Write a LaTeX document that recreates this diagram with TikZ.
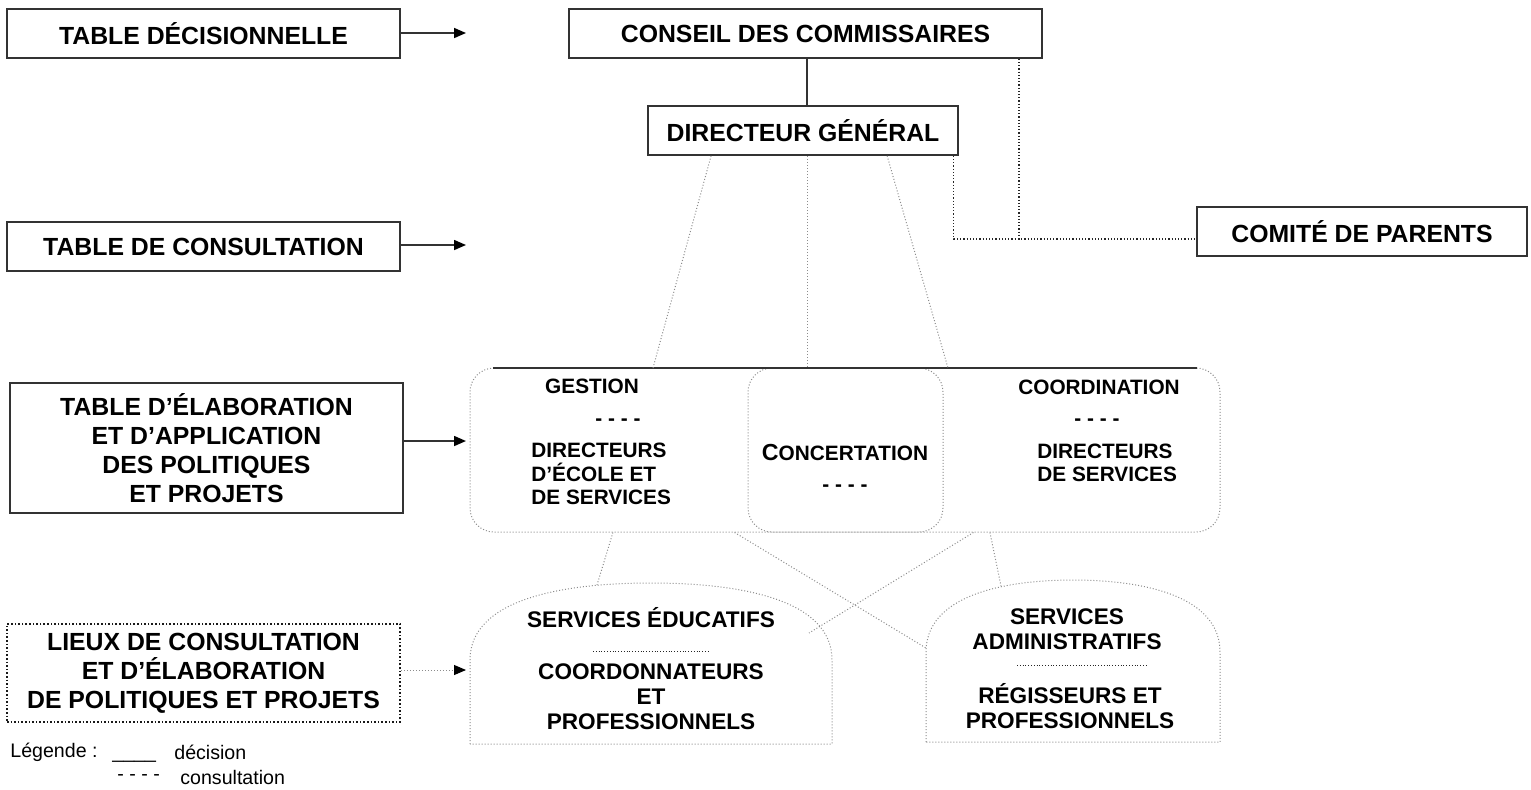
\documentclass[tikz,border=0pt]{standalone}
\usepackage{fontspec}
\setmainfont{Liberation Sans}
\usetikzlibrary{arrows.meta,calc}

\begin{document}
\begin{tikzpicture}[x=0.5pt,y=-0.5pt,
    tablebox/.style={draw=black!80, line width=0.8pt, inner sep=0pt, align=center,
        minimum width=196.5pt, minimum height=24.5pt,
        font=\bfseries\fontsize{12.4}{14.5}\selectfont},
    orgbox/.style={tablebox},
    consultbox/.style={draw=black!45, densely dotted, line width=0.5pt, rounded corners=12pt, inner sep=0pt},
    midtext/.style={inner sep=0pt, align=left, font=\bfseries\fontsize{10.4}{11.6}\selectfont},
    servtext/.style={inner sep=0pt, align=center, font=\bfseries\fontsize{11.3}{12.5}\selectfont},
    legendtext/.style={inner sep=0pt, anchor=west, font=\fontsize{9.8}{11}\selectfont},
    decision/.style={draw=black!80, line width=0.8pt},
    consult/.style={draw=black!45, densely dotted, line width=0.5pt},
    parentlink/.style={draw=black!85, densely dotted, line width=0.6pt},
    tip/.style={-{Triangle[length=6pt,width=5pt,black]}}
]
\useasboundingbox (0,0) rectangle (1531,789);

% left column: the four tables
\node[tablebox] (tdec) at (203.5,33.5) {TABLE DÉCISIONNELLE};
\node[tablebox] (tcons) at (203.5,246.5) {TABLE DE CONSULTATION};
\node[tablebox, minimum height=65pt] (telab) at (206.5,448)
    {TABLE D’ÉLABORATION\\ET D’APPLICATION\\DES POLITIQUES\\ET PROJETS};
\node[tablebox, draw=black!90, densely dotted, minimum height=49pt] (lieux) at (203.5,673)
    {LIEUX DE CONSULTATION\\ET D’ÉLABORATION\\DE POLITIQUES ET PROJETS};

\coordinate (tdecend) at (466,33);
\coordinate (tconsend) at (466,245);
\coordinate (elabin) at (466,441);
\coordinate (lieuxin) at (466,670);
\draw[decision, tip] (tdec.east |- tdecend) -- (tdecend);
\draw[decision, tip] (tcons.east |- tconsend) -- (tconsend);
\draw[decision, tip] (telab.east |- elabin) -- (elabin);
\draw[consult, tip] (lieux.east |- lieuxin) -- (lieuxin);

% decision level
\node[orgbox, minimum width=236.5pt] (conseil) at (805.5,33.5) {CONSEIL DES COMMISSAIRES};
\node[orgbox, minimum width=155pt] (dg) at (803,130.5) {DIRECTEUR GÉNÉRAL};
\node[orgbox, minimum width=165pt] (comite) at (1362,231.5) {COMITÉ DE PARENTS};
\coordinate (dgtop) at (807,106);
\draw[decision] (dgtop) -- (dgtop |- conseil.south);

% parents committee link
\coordinate (jct) at (1019,239);
\draw[parentlink] (conseil.south -| jct) -- (jct) -- (jct -| comite.west);
\draw[parentlink] ($(dg.south east)+(-5,0)$) |- (jct);

% elaboration table
\node[consultbox, minimum width=375pt, minimum height=82pt] (elab) at (845,450) {};
\node[consultbox, minimum width=97.5pt, minimum height=82pt] (concert) at (845.5,450) {};
\coordinate (barl) at (493,368);
\coordinate (barr) at (1197,368);
\coordinate (bar1) at (653,368);
\coordinate (bar3) at (948,368);
\draw[decision] (barl) -- (barr);
\draw[consult] ($(dg.south west)!0.205!(dg.south east)$) -- (bar1);
\draw[consult] (dgtop |- dg.south) -- (dgtop |- barl);
\draw[consult] ($(dg.south west)!0.77!(dg.south east)$) -- (bar3);

\node[midtext] (gestion) at (592,386) {GESTION};
\node[midtext] (gestdash) at (618,422) {- - - -};
\node[midtext, anchor=west] (gestdir) at (531,474) {DIRECTEURS\\D’ÉCOLE ET\\DE SERVICES};
\node[midtext] (concerttxt) at (845,452) {{\fontsize{11.6}{11.6}\selectfont C}ONCERTATION};
\node[midtext] (concertdash) at (845,488) {- - - -};
\node[midtext] (coord) at (1099,387) {COORDINATION};
\node[midtext] (coorddash) at (1097,422) {- - - -};
\node[midtext, anchor=west] (coorddir) at (1037,463) {DIRECTEURS\\DE SERVICES};

% services
\draw[consult] (470,744) -- (470,660) .. controls (470,600) and (560,583) .. (651,583)
    .. controls (742,583) and (832,600) .. (832,660) -- (832,744) -- cycle;
\draw[consult] (926,742) -- (926,652) .. controls (926,597) and (1000,580) .. (1073,580)
    .. controls (1146,580) and (1220,597) .. (1220,652) -- (1220,742) -- cycle;

\node[servtext] (educ) at (651,618) {SERVICES ÉDUCATIFS};
\node[servtext] (educpro) at (651,697) {COORDONNATEURS\\ET\\PROFESSIONNELS};
\draw[black!85, densely dotted, line width=0.4pt] (593,651) -- (710,651);
\node[servtext] (admin) at (1067,629) {SERVICES\\ADMINISTRATIFS};
\node[servtext] (adminpro) at (1070,706.5) {RÉGISSEURS ET\\PROFESSIONNELS};
\draw[black!85, densely dotted, line width=0.4pt] (1017,665) -- (1148,665);

\coordinate (eductop) at (597,585);
\coordinate (educside) at (809,633);
\coordinate (admside) at (926,648);
\coordinate (admtop) at (1001,586);
\draw[consult] ($(elab.south west)!0.191!(elab.south east)$) -- (eductop);
\draw[consult] ($(elab.south west)!0.353!(elab.south east)$) -- (admside);
\draw[consult] ($(elab.south west)!0.671!(elab.south east)$) -- (educside);
\draw[consult] ($(elab.south west)!0.693!(elab.south east)$) -- (admtop);

% legend
\node[legendtext] (leg) at (10,752) {Légende :};
\node[legendtext] (legline) at (112,760) {\_\_\_\_};
\node[legendtext] (legdec) at (174,752) {décision};
\node[legendtext] (legdash) at (117,777) {- - - -};
\node[legendtext] (legcons) at (180,777) {consultation};
\end{tikzpicture}
\end{document}
